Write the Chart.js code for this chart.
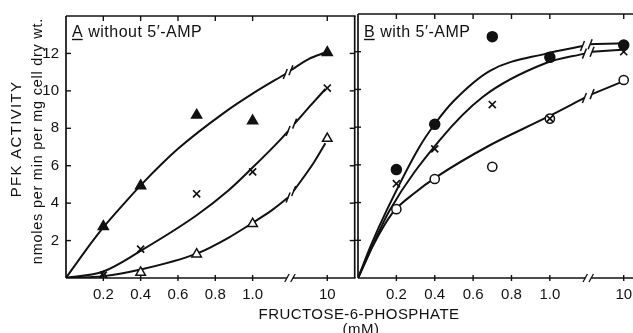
<!DOCTYPE html>
<html><head><meta charset="utf-8">
<script src="https://cdn.jsdelivr.net/npm/chart.js@4/dist/chart.umd.min.js"></script>
<style>
html,body{margin:0;padding:0;background:#fff;overflow:hidden;}
#wrap{position:relative;width:633px;height:333px;overflow:hidden;background:#fff;}
#ca{position:absolute;left:0;top:0;}
#cb{position:absolute;left:300px;top:0;}
.xt{position:absolute;font-family:"Liberation Sans",Arial,sans-serif;font-size:15px;color:#111;white-space:nowrap;transform:translateX(-50%);line-height:15px;}
</style></head>
<body><div id="wrap">
<canvas id="ca" width="362" height="333"></canvas>
<canvas id="cb" width="345" height="333"></canvas>
<div class="xt" style="left:359px;top:306px;letter-spacing:0.45px">FRUCTOSE-6-PHOSPHATE</div>
<div class="xt" style="left:361px;top:321px;letter-spacing:0.5px">(mM)</div>
</div>
<script>
// ---- data ----
const concentrations = [0.2, 0.4, 0.7, 1.0, 10];           // mM
const xTickValues = [0.2, 0.4, 0.6, 0.8, 1.0, 10];
const xTickLabels = ['0.2', '0.4', '0.6', '0.8', '1.0', '10'];
const yTickValues = [2, 4, 6, 8, 10, 12];
const yTickLabels = ['2', '4', '6', '8', '10', '12'];

// Panel A: without 5'-AMP
const A_filledTriangle = [2.75, 4.93, 8.7, 8.4, 12.05];
const A_cross          = [0.15, 1.54, 4.5, 5.67, 10.15];
const A_openTriangle   = [0.05, 0.3, 1.27, 2.9, 7.45];
// Panel B: with 5'-AMP
const B_filledCircle   = [5.75, 8.15, 12.8, 11.7, 12.35];
const B_cross          = [5.0, 6.85, 9.2, 8.45, 12.0];
const B_openCircle     = [3.65, 5.25, 5.9, 8.45, 10.5];

// hand-drawn fitted curves, read as [axis position, activity]; each split at the axis break
const A_filledTriangleFit = [[[0,0],[0.1,1.4],[0.2,2.7],[0.3,3.85],[0.4,4.95],[0.6,6.9],[0.85,8.85],[1.0,9.85],[1.175,10.9]],
                             [[1.205,11.1],[1.3,11.7],[1.39,12.05]]];
const A_crossFit          = [[[0,0],[0.2,0.35],[0.4,1.45],[0.7,3.35],[0.87,4.67],[1.0,5.9],[1.14,7.3],[1.19,7.85]],
                             [[1.225,8.25],[1.3,9.1],[1.39,10.1]]];
const A_openTriangleFit   = [[[0,0],[0.2,0.1],[0.4,0.45],[0.7,1.3],[0.87,2.15],[1.0,2.95],[1.1,3.6],[1.19,4.3]],
                             [[1.22,4.65],[1.33,6.2],[1.39,7.2]]];
const B_filledCircleFit   = [[[0,0],[0.07,1.8],[0.15,3.6],[0.32,6.95],[0.41,8.3],[0.5,9.4],[0.69,11.0],[0.98,11.9],[1.17,12.3]],
                             [[1.21,12.4],[1.3,12.42],[1.375,12.45]]];
const B_crossFit          = [[[0,0],[0.166,3.6],[0.425,7.3],[0.65,9.6],[0.98,11.4],[1.18,11.9]],
                             [[1.22,12.0],[1.375,12.1]]];
const B_openCircleFit     = [[[0,0],[0.08,1.75],[0.18,3.45],[0.3,4.55],[0.4,5.3],[0.68,7.0],[0.98,8.5],[1.18,9.55]],
                             [[1.22,9.75],[1.375,10.4]]];

const BREAK_POS = 1.2;   // where the "//" axis break sits
const TEN_POS_A = 1.4;   // axis position used for 10 mM (beyond the break), panel A
const TEN_POS_B = 1.385; // same, panel B
function pos(c, ten) { return c <= 1 ? c : ten; }

const INK = '#111';
const FONT = "'Liberation Sans', Arial, sans-serif";
Chart.defaults.font.family = FONT;
Chart.defaults.font.size = 15;
Chart.defaults.color = INK;

function markers(vals, style, filled, radius, ten) {
  return {
    type: 'scatter', order: 0,
    data: concentrations.map((c, i) => ({x: pos(c, ten), y: vals[i]})),
    showLine: false, pointStyle: style, pointRadius: radius, pointHoverRadius: radius,
    pointBackgroundColor: filled ? INK : '#fff', pointBorderColor: INK,
    pointBorderWidth: style === 'crossRot' ? 1.7 : 1.5
  };
}
function curves(fit) {
  return fit.map((seg, k) => ({
    type: 'scatter', order: 1, brk: k === 0 ? 'end' : 'start',
    data: seg.map(p => ({x: p[0], y: p[1]})),
    showLine: true, pointRadius: 0, borderColor: INK, borderWidth: 2,
    cubicInterpolationMode: 'monotone', fill: false
  }));
}

function line(ctx, x1, y1, x2, y2) { ctx.beginPath(); ctx.moveTo(x1, y1); ctx.lineTo(x2, y2); ctx.stroke(); }
function slash(ctx, x, y) { line(ctx, x - 2.2, y + 4, x + 2.2, y - 4); }

const framePlugin = {
  id: 'frame',
  afterDatasetsDraw(chart, args, o) {
    const {ctx, chartArea: a} = chart;
    const x = chart.scales.x, y = chart.scales.y;
    ctx.save();
    ctx.strokeStyle = INK; ctx.lineWidth = 1.7;
    line(ctx, a.left, a.top, a.right + 1, a.top);
    line(ctx, a.left, a.top, a.left, a.bottom);
    if (o.right) line(ctx, a.right, a.top, a.right, a.bottom);
    const bx = x.getPixelForValue(BREAK_POS);
    line(ctx, a.left, a.bottom, bx - 3, a.bottom);
    line(ctx, bx + 3, a.bottom, a.right + 1, a.bottom);
    ctx.lineWidth = 1.3;
    slash(ctx, bx - 3, a.bottom); slash(ctx, bx + 3, a.bottom);
    ctx.lineWidth = 1.4;
    xTickValues.forEach(v => {
      const px = x.getPixelForValue(pos(v, o.ten));
      line(ctx, px, a.bottom - 3, px, a.bottom + 3);
      line(ctx, px, a.top, px, a.top + 5);
    });
    yTickValues.forEach(v => {
      const py = y.getPixelForValue(v);
      if (o.crossLeft) line(ctx, a.left - 3, py, a.left + 3, py);
      else line(ctx, a.left, py, a.left + 5, py);
      if (o.right) line(ctx, a.right - 5, py, a.right, py);
    });
    // breaks on the fitted curves
    ctx.lineWidth = 1.5;
    chart.data.datasets.forEach((ds, i) => {
      if (!ds.brk) return;
      const pts = chart.getDatasetMeta(i).data;
      const p = ds.brk === 'end' ? pts[pts.length - 1] : pts[0];
      line(ctx, p.x - 2, p.y + 5, p.x + 2, p.y - 5);
    });
    // panel label
    ctx.fillStyle = INK;
    ctx.font = '16px ' + FONT;
    ctx.textBaseline = 'alphabetic';
    ctx.letterSpacing = '0.5px';
    const lx = a.left + 6, ly = 37;
    ctx.fillText(o.letter, lx, ly);
    const lw = ctx.measureText(o.letter).width;
    ctx.lineWidth = 1.4;
    line(ctx, lx, ly + 2.5, lx + lw - 0.5, ly + 2.5);
    ctx.fillText(o.label, lx + lw + 5, ly);
    // y-axis title
    if (o.ytitle) {
      ctx.save();
      ctx.textAlign = 'center'; ctx.textBaseline = 'middle';
      ctx.translate(17, 139); ctx.rotate(-Math.PI / 2);
      ctx.font = '15px ' + FONT; ctx.letterSpacing = '1.3px';
      ctx.fillText('PFK ACTIVITY', 0, 0);
      ctx.restore();
      ctx.save();
      ctx.textAlign = 'center'; ctx.textBaseline = 'middle';
      ctx.translate(38, 141); ctx.rotate(-Math.PI / 2);
      ctx.font = '14.5px ' + FONT; ctx.letterSpacing = '0.75px';
      ctx.fillText('nmoles per min per mg cell dry wt.', 0, 0);
      ctx.restore();
    }
    ctx.restore();
  }
};

function xScale(max, ten) {
  return {
    type: 'linear', min: 0, max: max,
    grid: {display: false, drawTicks: false}, border: {display: false},
    afterBuildTicks: s => { s.ticks = xTickValues.map(v => ({value: pos(v, ten)})); },
    afterFit: s => { s.height = 55; },
    ticks: {padding: 8, maxRotation: 0, autoSkip: false, callback: (v, i) => xTickLabels[i]}
  };
}

const common = {
  responsive: false, animation: false, events: [],
  plugins: {legend: {display: false}, tooltip: {enabled: false}}
};

new Chart(document.getElementById('ca'), {
  type: 'scatter',
  data: {datasets: [
    markers(A_filledTriangle, 'triangle', true, 5.8, TEN_POS_A),
    markers(A_cross, 'crossRot', false, 5, TEN_POS_A),
    markers(A_openTriangle, 'triangle', false, 5.5, TEN_POS_A),
    ...curves(A_filledTriangleFit), ...curves(A_crossFit), ...curves(A_openTriangleFit)
  ]},
  options: Object.assign({}, common, {
    layout: {padding: {left: 0, right: 4, top: 14, bottom: 0}},
    scales: {
      x: xScale(1.547, TEN_POS_A),
      y: {type: 'linear', min: 0, max: 14,
          grid: {display: false, drawTicks: false}, border: {display: false},
          afterBuildTicks: s => { s.ticks = yTickValues.map(v => ({value: v})); },
          afterFit: s => { s.width = 66; },
          ticks: {padding: 7, callback: (v, i) => yTickLabels[i]}}
    },
    plugins: Object.assign({}, common.plugins, {
      frame: {right: true, crossLeft: false, letter: 'A', label: 'without 5\u2032-AMP', ytitle: true, ten: TEN_POS_A}
    })
  }),
  plugins: [framePlugin]
});

new Chart(document.getElementById('cb'), {
  type: 'scatter',
  data: {datasets: [
    markers(B_filledCircle, 'circle', true, 5, TEN_POS_B),
    markers(B_cross, 'crossRot', false, 5, TEN_POS_B),
    markers(B_openCircle, 'circle', false, 4.6, TEN_POS_B),
    ...curves(B_filledCircleFit), ...curves(B_crossFit), ...curves(B_openCircleFit)
  ]},
  options: Object.assign({}, common, {
    layout: {padding: {left: 58, right: 5, top: 14, bottom: 0}},
    scales: {
      x: xScale(1.461, TEN_POS_B),
      y: {type: 'linear', min: 0, max: 14, display: false}
    },
    plugins: Object.assign({}, common.plugins, {
      frame: {right: false, crossLeft: true, letter: 'B', label: 'with 5\u2032-AMP', ytitle: false, ten: TEN_POS_B}
    })
  }),
  plugins: [framePlugin]
});
</script>
</body></html>
